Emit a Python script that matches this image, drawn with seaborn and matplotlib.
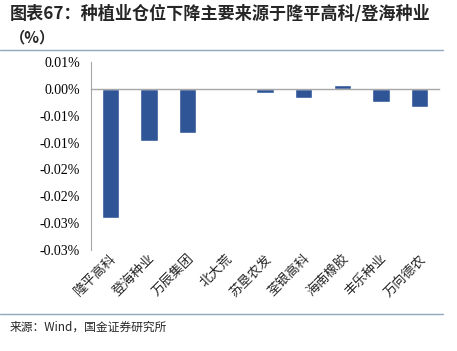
import matplotlib
matplotlib.use("Agg")
import matplotlib.pyplot as plt
import seaborn as sns
import numpy as np
from matplotlib.lines import Line2D

# data (percent units)
companies = ["隆平高科", "登海种业", "万辰集团", "北大荒", "苏垦农发",
             "荃银高科", "海南橡胶", "丰乐种业", "万向德农"]
changes = [-0.0240, -0.0098, -0.0082, -0.0003, -0.0008,
           -0.0017, 0.0008, -0.0025, -0.0034]
yticks = [0.005, 0.0, -0.005, -0.01, -0.015, -0.02, -0.025, -0.03]
ytick_labels = ["0.01%", "0.00%", "-0.01%", "-0.01%", "-0.02%",
                "-0.02%", "-0.03%", "-0.03%"]

title = "图表67：种植业仓位下降主要来源于隆平高科/登海种业"
subtitle = "（%）"
source = "来源：Wind，国金证券研究所"

sns.set_style("white")
serif = ["Liberation Serif", "DejaVu Serif"]
cjk = ["Noto Sans CJK SC", "DejaVu Sans"]
plt.rcParams["font.family"] = serif

fig = plt.figure(figsize=(4.57, 3.51), dpi=100)
ax = fig.add_axes([0.199, 0.2877, 0.7616, 0.5357])

bar_color = "#2F5597"
sns.barplot(x=companies, y=changes, color=bar_color, width=0.45,
            saturation=1, ax=ax)

ax.set_xlim(-0.5, len(companies) - 0.5)
ax.set_ylim(min(yticks), max(yticks))
ax.set_yticks(yticks)
ax.set_yticklabels(ytick_labels, fontsize=10, color="black", family=serif)
ax.set_xlabel("")
ax.set_ylabel("")

axis_grey = "#a6a6a6"
for side in ["top", "right"]:
    ax.spines[side].set_visible(False)
ax.spines["left"].set_color(axis_grey)
ax.spines["left"].set_linewidth(0.8)
ax.spines["bottom"].set_position(("data", 0))
ax.spines["bottom"].set_color(axis_grey)
ax.spines["bottom"].set_linewidth(1.0)

ax.tick_params(axis="y", direction="in", length=4, color=axis_grey, pad=8)
ax.set_xticks(np.arange(-0.5, len(companies), 1), minor=True)
ax.tick_params(axis="x", which="minor", direction="in", length=4,
               color=axis_grey, width=0.8)
ax.tick_params(axis="x", which="major", length=0, labelbottom=False)

# category labels under the plot area, rotated 45 degrees
label_tf = ax.get_xaxis_transform()
for i, name in enumerate(companies):
    ax.text(i + 0.1, -0.035, name, transform=label_tf, rotation=45,
            rotation_mode="anchor", ha="right", va="center",
            family=cjk, fontsize=9.5)

# header / footer
fig.text(0.022, 0.96, title, family=cjk, fontsize=12.3, fontweight="bold",
         va="center", ha="left")
fig.text(0.022, 0.892, subtitle, family=cjk, fontsize=11, fontweight="bold",
         va="center", ha="left")
line_c = "#8fa8c0"
fig.add_artist(Line2D([0, 0.97], [0.857, 0.857], color=line_c, lw=1,
                      transform=fig.transFigure))
fig.add_artist(Line2D([0, 0.97], [0.105, 0.105], color=line_c, lw=1,
                      transform=fig.transFigure))
fig.text(0.022, 0.068, source, family=cjk, fontsize=8.5, va="center",
         ha="left")

fig.savefig("out.png", dpi=100)
